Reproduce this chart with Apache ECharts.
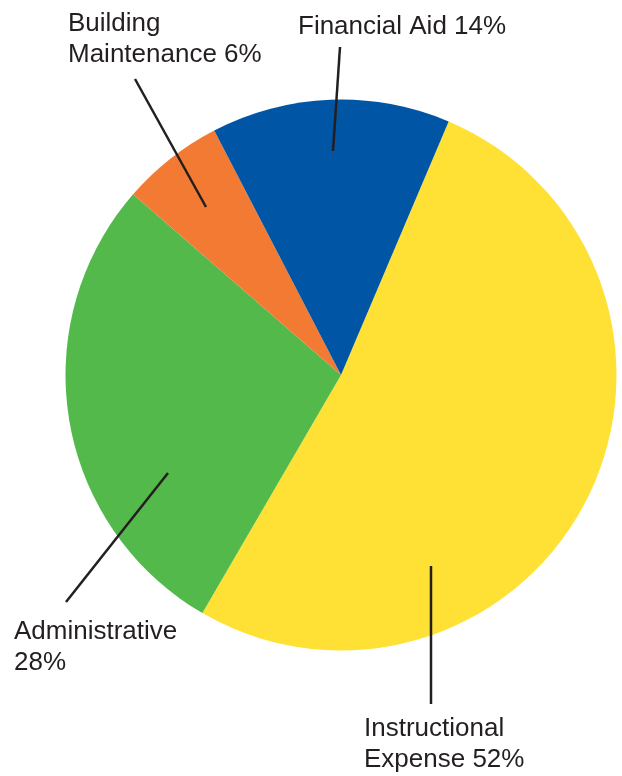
<!DOCTYPE html>
<html>
<head>
<meta charset="utf-8">
<style>
  html, body { margin: 0; padding: 0; background: #ffffff; }
  #chart { width: 622px; height: 776px; }
</style>
<script src="https://cdn.jsdelivr.net/npm/echarts@6/dist/echarts.min.js"></script>
</head>
<body>
<div id="chart"></div>
<script>
// ---- data ----
const categories = ['Instructional Expense', 'Administrative', 'Building Maintenance', 'Financial Aid'];
const values = [52, 28, 6, 14];
const colors = ['#FFE135', '#53B94A', '#F37A33', '#0055A4'];
// how each label's name is split onto lines in the reference
const labelNames = ['Instructional\nExpense', 'Administrative', 'Building\nMaintenance', 'Financial Aid'];
const labelSeparators = [' ', '\n', ' ', ' '];

// ---- label layout (positions only) ----
const labelPos = [
  { x: 364, y: 713, line: [[431, 566], [431, 704]] },
  { x: 14, y: 616, line: [[168, 473], [66, 602]] },
  { x: 68, y: 8, line: [[206, 207], [135, 79]] },
  { x: 298, y: 11, line: [[333, 151], [340, 47]] }
];

const chart = echarts.init(document.getElementById('chart'), null, { renderer: 'canvas' });

const base = {
  type: 'pie',
  center: [341, 375],
  radius: 275.5,
  startAngle: 67,
  clockwise: true,
  avoidLabelOverlap: false,
  emphasis: { disabled: true }
};

chart.setOption({
  backgroundColor: '#ffffff',
  animation: false,
  series: [
    // coloured slices
    Object.assign({}, base, {
      z: 2,
      data: categories.map((c, i) => ({
        name: c,
        value: values[i],
        itemStyle: { color: colors[i] }
      })),
      itemStyle: { borderWidth: 0 },
      label: { show: false },
      labelLine: { show: false }
    }),
    // same data, transparent slices, carrying labels and leader lines above the colour
    Object.assign({}, base, {
      z: 5,
      silent: true,
      data: categories.map((c, i) => ({ name: c, value: values[i] })),
      itemStyle: { color: 'rgba(0,0,0,0)', borderWidth: 0 },
      label: {
        show: true,
        position: 'outside',
        formatter: p => labelNames[p.dataIndex] + labelSeparators[p.dataIndex] + p.value + '%',
        fontFamily: 'Liberation Sans, Arial, Helvetica, sans-serif',
        fontSize: 26,
        lineHeight: 31,
        color: '#231F20',
        align: 'left'
      },
      labelLine: {
        show: true,
        showAbove: true,
        smooth: false,
        lineStyle: { color: '#231F20', width: 2.5 }
      },
      labelLayout: params => {
        const p = labelPos[params.dataIndex];
        return {
          x: p.x,
          y: p.y,
          align: 'left',
          verticalAlign: 'top',
          labelLinePoints: p.line
        };
      }
    })
  ]
});
</script>
</body>
</html>
